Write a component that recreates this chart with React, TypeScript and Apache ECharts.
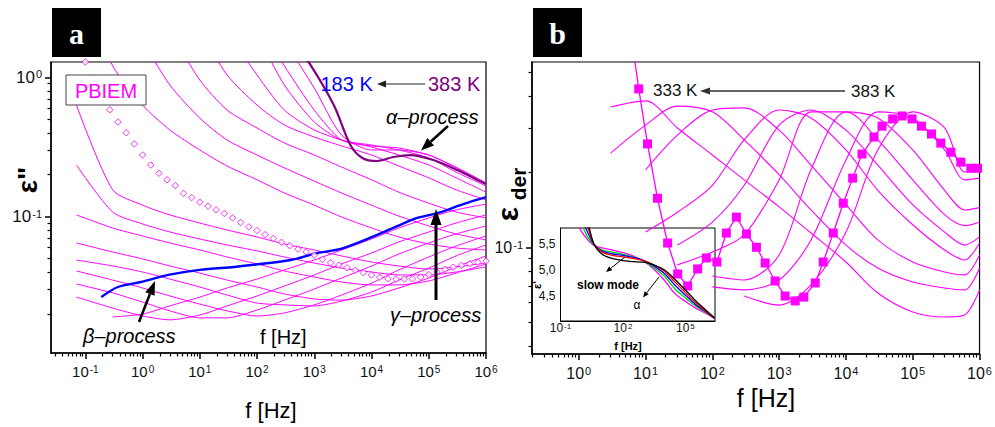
import React, { useEffect, useRef } from "react";
import * as echarts from "echarts";

const FONT = "'Liberation Sans', Arial, sans-serif";
const MAGENTA = "#ff00ff";
const lg = Math.log10;

// ---------------- Panel a : eps'' vs f ----------------
const freqGridA = [0.07, 0.3, 1, 3, 10, 30, 100, 300, 1e3, 3e3, 1e4, 3e4, 1e5, 3e5, 1e6];
const thinTempsA = [373, 363, 353, 343, 333, 323, 313, 303, 283, 273, 263, 253, 243, 233, 223, 213, 203];
const thinEpsA: (number | null)[][] = [
  [null, null, null, null, null, null, 4.3, 1.85, 0.838, 0.385, 0.301, 0.301, 0.277, 0.224, 0.172],
  [null, null, null, null, null, 5.0, 2.58, 1.21, 0.582, 0.355, 0.322, 0.311, 0.277, 0.227, 0.175],
  [null, null, null, null, null, 4.2, 2.01, 0.881, 0.478, 0.355, 0.327, 0.301, 0.264, 0.209, 0.166],
  [null, null, null, null, 5.0, 2.18, 1.04, 0.582, 0.419, 0.355, 0.316, 0.277, 0.235, 0.19, 0.15],
  [null, null, null, 5.0, 2.18, 1.04, 0.632, 0.455, 0.373, 0.322, 0.277, 0.231, 0.19, 0.156, 0.132],
  [null, null, 5.0, 2.18, 0.957, 0.582, 0.433, 0.338, 0.277, 0.227, 0.184, 0.15, 0.125, 0.108, 0.098],
  [null, 5.0, 1.85, 0.881, 0.51, 0.355, 0.277, 0.224, 0.18, 0.148, 0.121, 0.101, 0.0858, 0.0752, 0.0681],
  [5.0, 1.21, 0.632, 0.419, 0.301, 0.231, 0.184, 0.148, 0.121, 0.0995, 0.083, 0.0715, 0.0637, 0.0596, 0.0577],
  [0.632, 0.156, 0.121, 0.103, 0.0901, 0.0803, 0.0715, 0.0637, 0.0577, 0.0523, 0.0473, 0.0443, 0.0421, 0.0436, 0.0465],
  [0.235, 0.108, 0.0887, 0.0777, 0.0692, 0.0627, 0.0568, 0.0514, 0.0465, 0.0428, 0.0401, 0.0382, 0.0382, 0.0401, 0.0436],
  [0.103, 0.083, 0.0727, 0.0648, 0.0577, 0.0514, 0.0458, 0.0408, 0.0369, 0.034, 0.0324, 0.0324, 0.0346, 0.0394, 0.0458],
  [0.0648, 0.0558, 0.0498, 0.0443, 0.0394, 0.0351, 0.0313, 0.0279, 0.0257, 0.0252, 0.027, 0.0308, 0.0363, 0.0436, 0.0523],
  [0.0489, 0.0443, 0.0401, 0.0357, 0.0313, 0.0274, 0.024, 0.0233, 0.0229, 0.0248, 0.0288, 0.0351, 0.0428, 0.0523, 0.0627],
  [0.0408, 0.0351, 0.0308, 0.027, 0.0236, 0.0211, 0.0194, 0.0204, 0.0233, 0.0274, 0.0334, 0.0415, 0.0514, 0.0616, 0.0727],
  [0.0329, 0.0284, 0.0244, 0.0211, 0.0188, 0.0188, 0.0214, 0.0252, 0.0303, 0.0363, 0.0443, 0.054, 0.0648, 0.0752, 0.0858],
  [0.0265, 0.0221, 0.0194, 0.0182, 0.0197, 0.0229, 0.027, 0.0318, 0.0382, 0.0458, 0.0549, 0.0659, 0.0777, 0.0901, 0.103],
  [null, 0.0191, 0.02, 0.0229, 0.0265, 0.0308, 0.0357, 0.0415, 0.0489, 0.0577, 0.0692, 0.083, 0.098, 0.112, 0.123],
];

// 383 K (thick purple)
const freq383 = [316, 794, 2190, 4270, 6920, 12600, 24000, 47900, 120000, 316000, 891000, 1e6];
const eps383 = [2.18, 1.29, 0.632, 0.327, 0.264, 0.251, 0.268, 0.277, 0.255, 0.216, 0.175, 0.172];

// 183 K (thick blue)
const freq183 = [0.19, 0.37, 0.93, 2.8, 10, 40, 80, 390, 1140, 2900, 8500, 24000, 63000, 141000, 400000, 1e6];
const eps183 = [0.0265, 0.0313, 0.034, 0.0382, 0.0415, 0.0436, 0.045, 0.0489, 0.0549, 0.0587, 0.0692, 0.083, 0.098, 0.106, 0.123, 0.138];

// open diamonds
const diamondFreq = [0.1, 0.139, 0.193, 0.268, 0.373, 0.518, 0.72, 1, 1.39, 1.93, 2.68, 3.73, 5.18, 7.2, 10, 13.9, 19.3, 26.8, 37.3, 51.8, 72, 100, 139, 193, 268, 373, 518, 720, 1000, 1390, 1930, 2680, 3730, 5180, 7200, 1e4, 13900, 19300, 26800, 37300, 51800, 72000, 1e5, 139000, 193000, 268000, 373000, 518000, 720000, 1e6];
const diamondEps = [1.29, 0.99, 0.76, 0.585, 0.478, 0.4, 0.333, 0.277, 0.235, 0.205, 0.184, 0.167, 0.147, 0.137, 0.127, 0.119, 0.112, 0.1055, 0.098, 0.091, 0.0845, 0.0796, 0.0743, 0.0698, 0.0655, 0.062, 0.0585, 0.056, 0.053, 0.0494, 0.0467, 0.0449, 0.043, 0.0413, 0.0397, 0.0382, 0.0368, 0.0359, 0.0357, 0.0357, 0.0358, 0.0369, 0.0384, 0.0401, 0.0419, 0.0434, 0.0448, 0.046, 0.0471, 0.048];

// ---------------- Panel b : eps_der vs f ----------------
const freqGridB = [1, 3, 10, 30, 100, 300, 1e3, 3e3, 1e4, 3e4, 1e5, 3e5, 6e5, 1e6];
const thinEpsB: (number | null)[][] = [
  [null, 0.364, 0.385, 0.3, 0.234, 0.186, 0.145, 0.114, 0.0873, 0.0656, 0.0551, 0.0526, 0.0536, 0.0675],
  [null, 0.238, 0.308, 0.367, 0.348, 0.269, 0.195, 0.141, 0.102, 0.0826, 0.0726, 0.0687, 0.0675, 0.0826],
  [null, null, 0.204, 0.281, 0.354, 0.361, 0.294, 0.213, 0.148, 0.107, 0.0873, 0.0796, 0.0775, 0.0931],
  [null, null, 0.115, 0.138, 0.177, 0.269, 0.354, 0.329, 0.245, 0.169, 0.123, 0.0975, 0.0889, 0.104],
  [null, null, null, 0.102, 0.126, 0.177, 0.308, 0.354, 0.294, 0.213, 0.148, 0.115, 0.102, 0.11],
  [null, null, null, 0.085, 0.0957, 0.112, 0.186, 0.348, 0.348, 0.269, 0.186, 0.135, 0.122, 0.126],
  [null, null, null, null, 0.0767, 0.074, 0.0931, 0.204, 0.348, 0.329, 0.245, 0.169, 0.141, 0.144],
  [null, null, null, null, 0.0694, 0.0675, 0.074, 0.107, 0.223, 0.348, 0.329, 0.245, 0.186, 0.189],
  [null, null, null, null, null, 0.0638, 0.0587, 0.0707, 0.115, 0.245, 0.348, 0.3, 0.2, 0.204],
];
const squareFreq = [6.4, 7.9, 10.7, 15.1, 21.4, 30.2, 42.7, 60.3, 81.3, 117, 162, 229, 324, 457, 617, 871, 1230, 1740, 2340, 3470, 4570, 6460, 9120, 12600, 17400, 26300, 34700, 50100, 69200, 97700, 135000, 191000, 263000, 372000, 525000, 741000, 933000];
const squareEps = [0.644, 0.43, 0.259, 0.157, 0.104, 0.0782, 0.07, 0.0819, 0.0906, 0.0873, 0.114, 0.132, 0.113, 0.1, 0.0865, 0.0733, 0.0638, 0.061, 0.0632, 0.072, 0.0873, 0.114, 0.15, 0.189, 0.236, 0.276, 0.305, 0.326, 0.335, 0.326, 0.305, 0.284, 0.261, 0.24, 0.219, 0.207, 0.207];

// ---------------- Inset : eps' vs f ----------------
const insetFreq = [0.5, 1, 2, 4, 10, 30, 100, 300, 1e3, 3e3, 1e4, 3e4, 1e5, 3e5, 1e6, 2.5e6];
const insetColors = ["#ff00ff", "#00d000", "#0000ff", "#ff0000", "#000000"];
const insetEps: (number | null)[][] = [
  [5.98, 5.74, 5.58, 5.47, 5.42, 5.38, 5.33, 5.27, 5.17, 5.02, 4.8, 4.56, 4.4, 4.28, 4.17, 4.08],
  [6.1, 5.88, 5.63, 5.48, 5.38, 5.34, 5.3, 5.25, 5.17, 5.05, 4.88, 4.65, 4.47, 4.32, 4.19, 4.08],
  [null, 6.0, 5.72, 5.49, 5.36, 5.31, 5.28, 5.24, 5.18, 5.08, 4.93, 4.72, 4.52, 4.35, 4.2, 4.08],
  [null, 6.1, 5.82, 5.5, 5.34, 5.28, 5.25, 5.22, 5.18, 5.1, 4.97, 4.78, 4.57, 4.38, 4.21, 4.08],
  [null, null, 5.95, 5.5, 5.3, 5.22, 5.18, 5.16, 5.15, 5.1, 5.0, 4.83, 4.62, 4.42, 4.23, 4.09],
];

// axis tick labels
const decadesA = [-1, 0, 1, 2, 3, 4, 5, 6];
const decadesAy = [-1, 0];
const decadesB = [0, 1, 2, 3, 4, 5, 6];
const decadesBy = [-1];
const decadesInset = [-1, 2, 5];
const insetYTicks = [4.5, 5.0, 5.5];
const minorBy = [0.04, 0.05, 0.06, 0.07, 0.08, 0.09, 0.2, 0.3, 0.4, 0.5];

function logPts(fs: number[], es: (number | null)[]) {
  const out: number[][] = [];
  fs.forEach((f, i) => {
    const e = es[i];
    if (e != null) out.push([lg(f), lg(e)]);
  });
  return out;
}

function minorLog(lo: number, hi: number) {
  const out: number[] = [];
  for (let d = Math.floor(lo) - 1; d <= Math.ceil(hi); d++) {
    for (let k = 2; k <= 9; k++) {
      const v = d + lg(k);
      if (v > lo + 1e-6 && v < hi - 1e-6) out.push(v);
    }
  }
  return out;
}

const AX = { color: "#000", width: 1.5 };
const LABEL_C = "#111";

function supRich(size: number, sup: number) {
  return {
    m: { fontSize: size, fontFamily: FONT, color: LABEL_C },
    s: { fontSize: sup, fontFamily: FONT, color: LABEL_C, verticalAlign: "top", padding: [0, 0, 0, 1] },
  };
}

function axisPair(
  dim: "x" | "y",
  gridIndex: number,
  min: number,
  max: number,
  major: number[],
  minor: number[],
  size: number,
  sup: number,
  margin: number
) {
  const position = dim === "x" ? "bottom" : "left";
  const majorAxis = {
    gridIndex,
    type: "value",
    min,
    max,
    position,
    axisLine: { show: true, onZero: false, lineStyle: AX },
    splitLine: { show: false },
    axisTick: { show: true, customValues: major, length: 6, inside: false, lineStyle: AX },
    axisLabel: {
      show: true,
      customValues: major,
      margin,
      formatter: (v: number) => `{m|10}{s|${Math.round(v)}}`,
      rich: supRich(size, sup),
    },
  };
  const minorAxis = {
    gridIndex,
    type: "value",
    min,
    max,
    position,
    axisLine: { show: false, onZero: false },
    splitLine: { show: false },
    axisTick: { show: true, customValues: minor, length: 3.5, inside: false, lineStyle: { color: "#000", width: 1.2 } },
    axisLabel: { show: false },
  };
  return [majorAxis, minorAxis];
}

function arrow(from: number[], tip: number[], width: number, len: number, half: number, color: string) {
  const dx = tip[0] - from[0];
  const dy = tip[1] - from[1];
  const L = Math.hypot(dx, dy);
  const ux = dx / L, uy = dy / L;
  const bx = tip[0] - ux * len, by = tip[1] - uy * len;
  const nx = -uy * half, ny = ux * half;
  return [
    {
      type: "line",
      z: 100,
      shape: { x1: from[0], y1: from[1], x2: bx, y2: by },
      style: { stroke: color, lineWidth: width },
    },
    {
      type: "polygon",
      z: 100,
      shape: { points: [[tip[0], tip[1]], [bx + nx, by + ny], [bx - nx, by - ny]] },
      style: { fill: color },
    },
  ];
}

function txt(x: number, y: number, text: string, font: string, fill: string, align = "left", rotation = 0) {
  return {
    type: "text",
    z: 100,
    x,
    y,
    rotation,
    style: { text, font, fill, textAlign: align, textVerticalAlign: "middle" },
  };
}

function buildOption() {
  const aX = axisPair("x", 0, -1.6, 6, decadesA, minorLog(-1.6, 6), 15, 10, 11);
  const aY = axisPair("y", 0, -1.978, 0.11, decadesAy, minorLog(-1.978, 0.11), 17, 11, 9);
  const bX = axisPair("x", 1, -0.7, 6, decadesB, minorLog(-0.7, 6), 16, 11, 11);
  const bY = axisPair("y", 1, -1.427, -0.259, decadesBy, minorBy.map(lg), 16, 11, 9);

  const insetX = {
    gridIndex: 2,
    type: "value",
    min: -1,
    max: 6.42,
    position: "bottom",
    axisLine: { show: true, onZero: false, lineStyle: { color: "#000", width: 1 } },
    splitLine: { show: false },
    axisTick: { show: false },
    axisLabel: {
      customValues: decadesInset,
      margin: 1,
      formatter: (v: number) => `{m|10}{s|${Math.round(v)}}`,
      rich: supRich(12, 8),
    },
    z: 10,
  };
  const insetY = {
    gridIndex: 2,
    type: "value",
    min: 4.03,
    max: 5.8,
    position: "left",
    axisLine: { show: true, onZero: false, lineStyle: { color: "#000", width: 1 } },
    splitLine: { show: false },
    axisTick: { show: false },
    axisLabel: {
      customValues: insetYTicks,
      margin: 5,
      fontSize: 12,
      fontFamily: FONT,
      color: LABEL_C,
      formatter: (v: number) => v.toFixed(1).replace(".", ","),
    },
    z: 10,
  };

  const xAxis = [aX[0], aX[1], bX[0], bX[1], insetX];
  const yAxis = [aY[0], aY[1], bY[0], bY[1], insetY];

  const series: any[] = [];
  thinEpsA.forEach((eps, i) => {
    series.push({
      name: `${thinTempsA[i]} K`,
      type: "line",
      xAxisIndex: 0,
      yAxisIndex: 0,
      data: logPts(freqGridA, eps),
      symbol: "none",
      smooth: 0.25,
      lineStyle: { color: MAGENTA, width: 1 },
      silent: true,
      z: 2,
    });
  });
  series.push({
    name: "383 K",
    type: "line",
    xAxisIndex: 0,
    yAxisIndex: 0,
    data: logPts(freq383, eps383),
    symbol: "none",
    smooth: 0.3,
    lineStyle: { color: "#800080", width: 2.2 },
    z: 3,
  });
  series.push({
    name: "183 K",
    type: "line",
    xAxisIndex: 0,
    yAxisIndex: 0,
    data: logPts(freq183, eps183),
    symbol: "none",
    smooth: 0.3,
    lineStyle: { color: "#0000ff", width: 2.4 },
    z: 3,
  });
  series.push({
    name: "diamonds",
    type: "scatter",
    xAxisIndex: 0,
    yAxisIndex: 0,
    data: logPts(diamondFreq, diamondEps),
    symbol: "diamond",
    symbolSize: 6.5,
    itemStyle: { color: "#fff", borderColor: MAGENTA, borderWidth: 1 },
    z: 4,
  });

  thinEpsB.forEach((eps, i) => {
    series.push({
      name: `b${i}`,
      type: "line",
      xAxisIndex: 2,
      yAxisIndex: 2,
      data: logPts(freqGridB, eps),
      symbol: "none",
      smooth: 0.3,
      lineStyle: { color: MAGENTA, width: 1.1 },
      z: 2,
    });
  });
  const sq = logPts(squareFreq, squareEps).map((p, i) =>
    i === 0 ? { value: p, symbol: "none" } : { value: p }
  );
  series.push({
    name: "squares",
    type: "line",
    xAxisIndex: 2,
    yAxisIndex: 2,
    data: sq,
    symbol: "rect",
    symbolSize: 9,
    showAllSymbol: true,
    itemStyle: { color: MAGENTA },
    lineStyle: { color: MAGENTA, width: 1.3 },
    z: 4,
  });

  insetEps.forEach((eps, i) => {
    const pts: number[][] = [];
    insetFreq.forEach((f, j) => {
      const e = eps[j];
      if (e != null) pts.push([lg(f), e]);
    });
    series.push({
      name: `inset${i}`,
      type: "line",
      xAxisIndex: 4,
      yAxisIndex: 4,
      data: pts,
      symbol: "none",
      smooth: 0.3,
      lineStyle: { color: insetColors[i], width: 1.3 },
      z: 5,
    });
  });

  const g: any[] = [];
  // panel tags
  g.push({ type: "rect", z: 100, shape: { x: 52, y: 8, width: 49, height: 49 }, style: { fill: "#000" } });
  g.push(txt(76.5, 33, "a", "bold 30px 'Liberation Serif', serif", "#fff", "center"));
  g.push({ type: "rect", z: 100, shape: { x: 533, y: 8, width: 49, height: 49 }, style: { fill: "#000" } });
  g.push(txt(557.5, 33, "b", "bold 30px 'Liberation Serif', serif", "#fff", "center"));
  // PBIEM box
  g.push({ type: "rect", z: 100, shape: { x: 66, y: 75, width: 80, height: 30 }, style: { fill: "#fff", stroke: "#444", lineWidth: 1 } });
  g.push(txt(106, 90.5, "PBIEM", `20px ${FONT}`, MAGENTA, "center"));
  // panel a annotations
  g.push(txt(320.5, 84, "183 K", `20px ${FONT}`, "#0000ff"));
  g.push(txt(428, 84, "383 K", `20px ${FONT}`, "#800080"));
  g.push(...arrow([425, 84], [377, 84], 1.2, 9, 3.5, "#222"));
  g.push(txt(386, 117, "α–process", `italic 20px ${FONT}`, "#000"));
  g.push(...arrow([448, 126], [421, 150.5], 2.5, 13, 5, "#000"));
  g.push(txt(390, 315, "γ–process", `italic 20px ${FONT}`, "#000"));
  g.push(...arrow([436, 300], [436, 209], 3, 16, 5.5, "#000"));
  g.push(txt(83, 336, "β–process", `italic 20px ${FONT}`, "#000"));
  g.push(...arrow([139, 322], [155, 281], 2.5, 14, 5, "#000"));
  g.push(txt(260, 337, "f [Hz]", `20px ${FONT}`, "#000"));
  g.push(txt(271, 410, "f [Hz]", `22px ${FONT}`, "#000", "center"));
  g.push(txt(27, 180, 'ε"', `bold 28px ${FONT}`, "#000", "center", Math.PI / 2));
  // panel b annotations
  g.push(txt(653, 90, "333 K", `17px ${FONT}`, "#111"));
  g.push(txt(851, 91, "383 K", `17px ${FONT}`, "#111"));
  g.push(...arrow([845, 91], [700, 91], 1.5, 10, 3.5, "#333"));
  g.push(txt(766, 398, "f [Hz]", `25px ${FONT}`, "#000", "center"));
  g.push(txt(507, 214, "ε", `bold 30px ${FONT}`, "#000", "center", Math.PI / 2));
  g.push(txt(518, 184, "der", `bold 21px ${FONT}`, "#000", "center", Math.PI / 2));
  // inset annotations
  g.push(txt(577, 285, "slow mode", `bold 12px ${FONT}`, "#000"));
  g.push(txt(637, 305, "α", `12px ${FONT}`, "#000", "center"));
  g.push(...arrow([625, 257], [606, 272], 1, 6, 2.5, "#000"));
  g.push(...arrow([659, 277], [643, 297.5], 1, 6, 2.5, "#000"));
  g.push(txt(628, 346, "f [Hz]", `bold 11px ${FONT}`, "#000", "center"));
  g.push(txt(537, 285, "ε'", `bold 11px ${FONT}`, "#000", "center", Math.PI / 2));

  return {
    animation: false,
    backgroundColor: "#fff",
    textStyle: { fontFamily: FONT },
    grid: [
      { left: 51, top: 62, width: 435, height: 291, show: true, borderColor: "#000", borderWidth: 1.2, backgroundColor: "transparent" },
      { left: 532, top: 62, width: 449, height: 292, show: true, borderColor: "#000", borderWidth: 1.2, backgroundColor: "transparent" },
      { left: 560.5, top: 228, width: 154.5, height: 93, show: true, borderColor: "#000", borderWidth: 1, backgroundColor: "transparent" },
    ],
    xAxis,
    yAxis,
    series,
    graphic: { elements: g },
  };
}

export default function App() {
  const ref = useRef<HTMLDivElement>(null);
  useEffect(() => {
    if (!ref.current) return;
    const chart = echarts.init(ref.current, null, { renderer: "svg" });
    chart.setOption(buildOption() as any);
    return () => chart.dispose();
  }, []);
  return (
    <div
      ref={ref}
      style={{ position: "fixed", left: 0, top: 0, width: 995, height: 427, background: "#fff" }}
    />
  );
}
